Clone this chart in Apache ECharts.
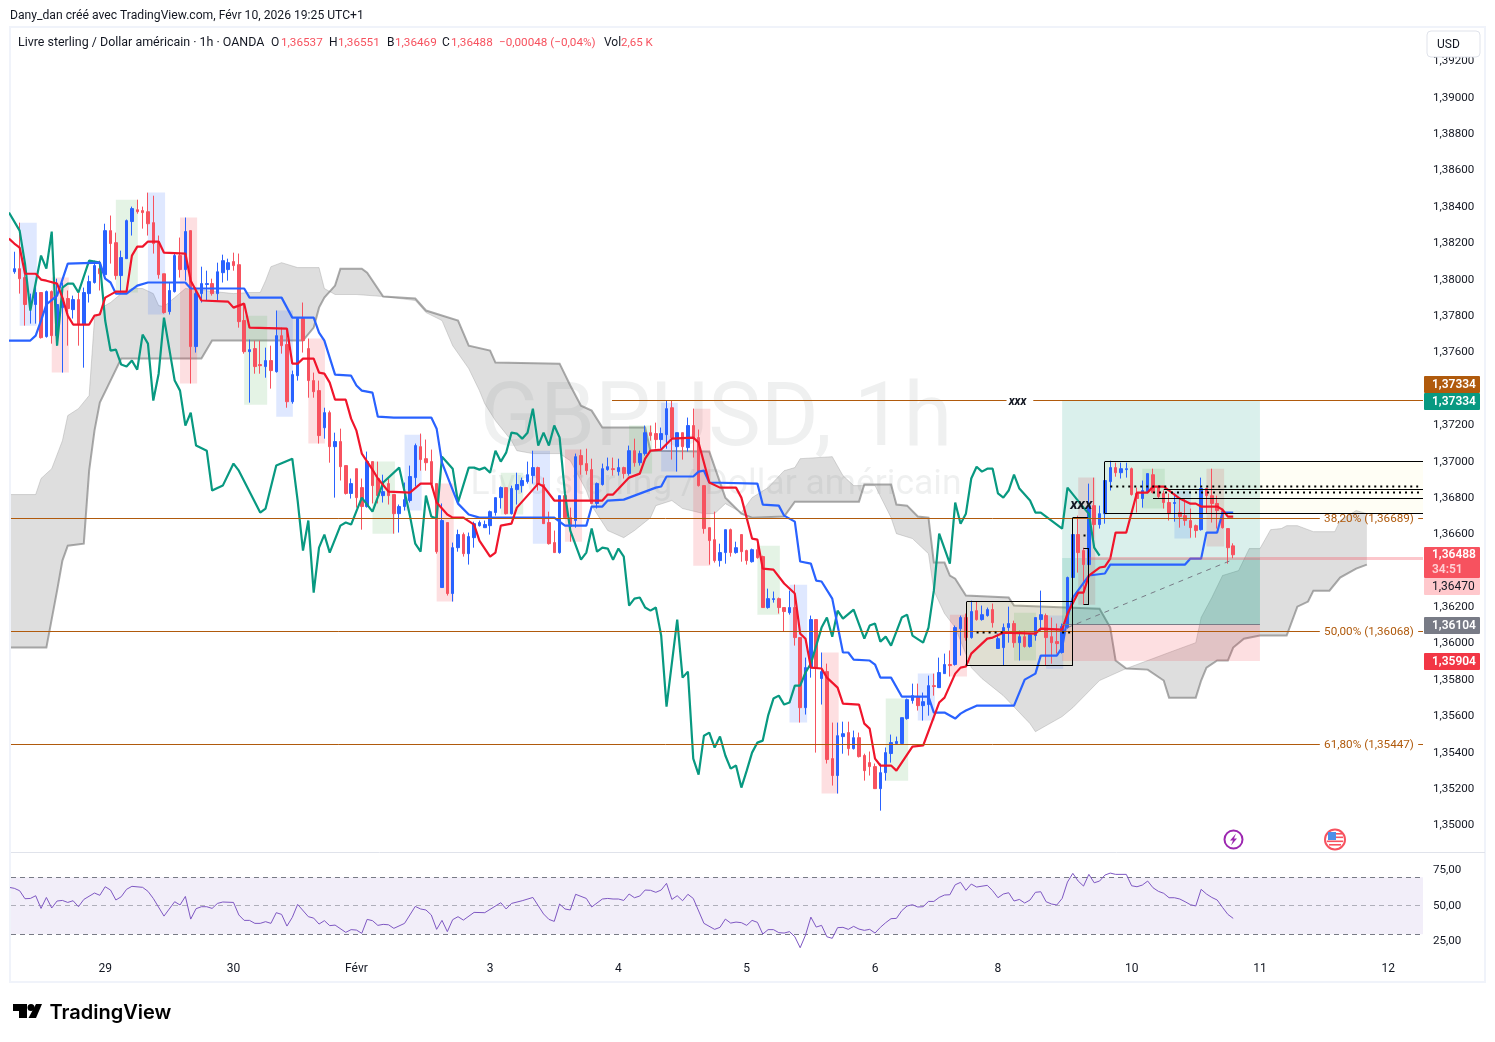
<!DOCTYPE html>
<html><head><meta charset="utf-8"><title>GBPUSD 1h</title>
<style>html,body{margin:0;padding:0;background:#fff}#c{width:1495px;height:1042px}</style>
<script src="https://cdn.jsdelivr.net/npm/echarts@6/dist/echarts.min.js"></script></head><body><div id="c"></div>
<script>
// Prices are stored in 1e-5 units (1,36488 -> 136488). Bars are hourly, numbered from 0.
const PT = 1e5;
const opens = [138043,138060,138011,137863,137863,137929,137687,137934,137692,137846,137896,137835,137890,137753,137923,137984,138060,138027,138269,138203,138022,138115,138319,138384,138379,138373,138313,138203,138032,137824,
137934,138132,138055,138269,137632,137923,137973,137978,137923,138038,138055,138099,138082,137775,137604,137621,137533,137522,137555,137494,137692,137643,137329,137472,137786,137621,137445,137390,137186,137269,
137082,137110,136978,136825,136961,136857,136753,137000,136907,136813,136879,136819,136714,136753,136786,136912,137082,137016,137000,136879,136308,136665,136275,136527,136599,136494,136582,136648,136637,136648,
136720,136802,136857,136714,136846,136868,136890,136923,136967,136874,136665,136555,136500,136813,136692,136676,137033,136989,136956,136770,136874,136956,136961,136945,136967,136934,137060,136994,137044,137159,
137154,137121,137148,137296,137082,137159,137077,137198,137132,136868,136637,136571,136456,136500,136626,136500,136599,136511,136450,136516,136478,136198,136242,136247,136198,136170,136198,136033,135648,135868,
136132,135808,135846,135368,135275,135489,135511,135423,135483,135385,135346,135324,135203,135291,135396,135451,135451,135588,135687,135709,135659,135665,135769,135758,135835,135885,135885,136082,136143,136033,
136181,136132,136154,136187,135973,135978,136088,136110,136005,136038,135984,136044,136132,136154,136038,136011,135951,136088,136363,136599,136511,136434,136758,136654,136714,136890,136967,136939,136956,136961,
136825,136797,136835,136928,136857,136825,136775,136770,136720,136703,136676,136648,136626,136852,136813,136770,136731,136632,136537];
const highs = [138153,138313,138110,137923,137967,137929,137940,137940,138005,137984,137940,137912,137929,137956,138022,138104,138104,138307,138352,138258,138159,138330,138401,138439,138401,138478,138461,138242,138032,137984,
138148,138231,138341,138269,137956,138071,138049,138005,138093,138137,138115,138148,138143,137868,137670,137665,137665,137626,137637,137830,137736,137731,137500,137786,137874,137676,137489,137445,137296,137280,
137159,137181,136978,136907,136961,136907,137055,137000,137000,136928,136907,136819,136764,136885,136978,137099,137154,137121,137066,136879,136770,136665,136555,136626,136610,136610,136670,136676,136676,136731,
136802,136863,136857,136868,136939,136912,137000,137060,136972,136912,136725,136621,136813,136813,136747,137044,137066,137071,137016,136885,136989,137022,137022,137016,136972,137088,137126,137060,137198,137198,
137214,137187,137335,137335,137159,137159,137242,137291,137176,136868,136637,136725,136549,136626,136632,136560,136599,136516,136522,136571,136483,136302,136286,136253,136198,136291,136324,136033,135923,136154,
136132,135951,135890,135566,135566,135571,135571,135522,135511,135395,135407,135341,135341,135429,135500,135489,135593,135698,135780,135780,135731,135824,135835,135923,135945,135962,136099,136154,136165,136236,
136231,136209,136198,136220,136055,136110,136203,136126,136071,136071,136055,136143,136291,136165,136143,136110,136110,136368,136599,136703,136527,136879,136912,136758,136907,137005,136994,136994,136994,136967,
136857,136896,136934,136961,136868,136841,136825,136825,136797,136797,136742,136654,136912,136857,136961,136813,136742,136632,136551];
const lows = [138032,137923,137747,137758,137758,137676,137681,137648,137637,137489,137637,137786,137637,137516,137874,137978,137940,138005,138088,138000,137929,138115,138242,138362,138280,138242,138143,138005,137813,137808,
137929,138011,137994,137429,137599,137874,137885,137912,137885,137984,137994,138049,137736,137593,137324,137483,137483,137461,137401,137489,137593,137296,137318,137445,137599,137351,137351,137099,137126,136994,
136802,136896,136819,136797,136747,136626,136747,136770,136770,136775,136764,136604,136610,136731,136775,136863,136950,136950,136857,136494,136308,136264,136231,136505,136478,136434,136527,136643,136637,136599,
136703,136742,136709,136709,136764,136830,136879,136879,136841,136659,136544,136500,136494,136687,136560,136637,136928,136928,136770,136742,136868,136950,136923,136923,136907,136923,136972,136978,137033,137115,
137071,137071,137071,137011,136945,137011,137055,137022,136863,136604,136434,136445,136423,136439,136478,136494,136450,136434,136445,136467,136198,136192,136225,136165,136066,136159,135989,135566,135610,135813,
135401,135665,135341,135220,135176,135395,135385,135418,135374,135247,135275,135203,135082,135247,135346,135451,135451,135582,135670,135632,135577,135604,135714,135758,135835,135819,135879,135934,136016,136027,
136126,136126,136148,136088,135973,135879,136005,135978,135907,135978,135978,136016,136071,135879,135890,135945,135945,136082,136357,136390,136214,136428,136527,136632,136659,136841,136917,136907,136912,136813,
136720,136747,136830,136825,136797,136742,136676,136670,136637,136648,136582,136582,136621,136714,136665,136632,136632,136439,136469];
const closes = [138060,138005,137863,137868,137929,137681,137934,137692,137863,137896,137841,137890,137753,137929,137989,138077,138032,138269,138198,138022,138121,138324,138390,138373,138368,138307,138198,138027,137819,137940,
138132,138055,138264,137632,137923,137978,137978,137923,138043,138104,138093,138077,137769,137604,137615,137522,137527,137555,137500,137692,137637,137329,137478,137786,137665,137445,137384,137143,137269,137082,
137110,136972,136825,136879,136802,136753,137000,136868,136813,136835,136813,136714,136753,136791,136918,137088,137011,136994,136879,136505,136676,136275,136527,136599,136494,136588,136659,136665,136654,136725,
136802,136857,136714,136852,136874,136896,136928,136967,136874,136659,136549,136500,136813,136692,136643,137027,136983,136950,136770,136879,136961,136972,136956,136967,136934,137060,136994,137044,137159,137143,
137121,137154,137291,137131,137159,137082,137198,137126,136868,136632,136566,136456,136500,136626,136500,136527,136505,136456,136516,136472,136198,136247,136247,136198,136176,136198,136033,135648,135868,136132,
135868,135846,135363,135275,135494,135505,135423,135483,135379,135302,135324,135203,135291,135401,135456,135462,135593,135692,135714,135659,135681,135769,135764,135841,135885,135879,136088,136143,136033,136176,
136132,136159,136187,136115,136027,136088,136110,136005,136038,135984,136049,136143,136159,136033,136005,136000,136093,136363,136599,136500,136434,136758,136654,136714,136896,136967,136939,136961,136961,136819,
136797,136841,136934,136830,136808,136775,136714,136775,136698,136676,136637,136621,136852,136813,136770,136731,136637,136527,136488];

const spanA = [[-1,136819],[4,136819],[5,136907],[7,136961],[9,137115],[10,137253],[12,137291],[14,137363],[15,137786],[17,137857],[18,137874],[20,137923],[22,137951],[24,137951],[26,137923],[27,137857],[28,137852],[30,137901],[32,137951],[41,137923],[44,137929],[46,137929],[47,137994],[48,138071],[50,138093],[53,138066],[57,138066],[58,137951],[60,137918],[64,137918],[69,137907],[75,137885],[77,137819],[80,137775],[82,137637],[85,137511],[87,137390],[88,137318],[90,137225],[93,137115],[94,137060],[97,137044],[102,137044],[104,137005],[107,136841],[108,136758],[111,136621],[114,136582],[116,136621],[119,136692],[120,136758],[123,136786],[125,136742],[129,136714],[131,136714],[133,136769],[136,136720],[138,136802],[141,136857],[144,136950],[146,136967],[147,137016],[153,137027],[155,136923],[157,136868],[161,136868],[164,136692],[165,136604],[168,136577],[171,136494],[172,136291],[174,136165],[176,136088],[179,135868],[181,135808],[185,135714],[190,135560],[191,135516],[196,135599],[198,135648],[203,135797],[208,135863],[213,135918],[216,135951],[221,136005],[222,136143],[224,136253],[226,136374],[229,136401],[231,136522],[233,136522],[235,136626],[237,136632],[238,136648],[240,136648],[243,136615],[247,136615],[248,136676],[251,136731],[253,136714]];
const spanB = [[-1,135978],[6,135978],[8,136291],[9,136456],[10,136538],[13,136549],[14,136950],[15,137170],[16,137324],[18,137445],[20,137566],[35,137566],[37,137665],[54,137665],[56,137736],[57,137846],[58,137901],[60,137967],[61,138060],[65,138060],[66,138038],[69,137907],[75,137896],[77,137830],[83,137775],[85,137637],[89,137610],[90,137544],[102,137538],[104,137418],[106,137307],[108,137280],[110,137187],[118,137187],[119,137060],[130,137055],[133,136802],[136,136714],[138,136692],[144,136698],[146,136780],[158,136780],[159,136874],[164,136874],[165,136764],[167,136758],[169,136698],[171,136692],[172,136445],[174,136445],[175,136374],[176,136357],[178,136264],[186,136253],[187,136209],[203,136192],[205,136088],[206,135907],[208,135863],[212,135857],[215,135797],[216,135703],[221,135703],[222,135797],[223,135868],[225,135907],[227,135907],[228,135978],[230,136027],[233,136044],[238,136044],[240,136203],[242,136231],[243,136291],[246,136291],[248,136363],[251,136412],[253,136434]];
const kijun = [[-1,137665],[3,137665],[4,137692],[5,137775],[6,137863],[8,137912],[10,138088],[16,138093],[17,138005],[18,137984],[19,137923],[21,137923],[23,137967],[25,137984],[32,137984],[33,137951],[43,137951],[44,137901],[50,137901],[52,137791],[56,137791],[57,137709],[58,137665],[60,137478],[63,137472],[64,137418],[65,137390],[67,137379],[68,137247],[71,137242],[78,137242],[79,137181],[80,136994],[83,136769],[85,136709],[87,136692],[101,136692],[103,136648],[107,136648],[108,136753],[110,136753],[111,136786],[114,136791],[116,136813],[119,136846],[120,136857],[121,136863],[122,136918],[127,136918],[128,136945],[129,136950],[130,136885],[139,136879],[140,136764],[143,136758],[144,136703],[146,136670],[147,136451],[149,136439],[150,136346],[151,136341],[153,136247],[155,135951],[156,135951],[157,135912],[160,135907],[161,135885],[162,135813],[164,135813],[166,135709],[171,135709],[172,135621],[174,135621],[176,135588],[177,135615],[178,135632],[180,135659],[187,135659],[189,135802],[191,135835],[192,135934],[195,135934],[196,135978],[197,136143],[198,136253],[201,136374],[204,136385],[205,136434],[219,136434],[220,136467],[222,136467],[223,136610],[225,136610],[226,136720],[228,136720]];
const tenkan = [[-1,138225],[0,138198],[1,138176],[2,138032],[4,138032],[5,138000],[6,137994],[8,137978],[9,137901],[10,137802],[11,137753],[14,137753],[15,137802],[16,137808],[17,137901],[19,137934],[21,137934],[22,138132],[23,138181],[24,138181],[25,138209],[27,138209],[28,138148],[32,138143],[33,137994],[35,137885],[40,137879],[41,137846],[43,137868],[44,137736],[51,137731],[52,137538],[53,137538],[54,137566],[56,137566],[57,137489],[58,137483],[59,137434],[60,137340],[62,137340],[63,137236],[64,137170],[65,137044],[67,136956],[68,136907],[70,136835],[74,136830],[76,136879],[78,136879],[79,136775],[81,136709],[82,136692],[84,136692],[86,136654],[87,136566],[89,136478],[90,136500],[91,136648],[93,136659],[94,136747],[98,136879],[99,136863],[101,136786],[110,136786],[111,136819],[112,136819],[115,136912],[117,136934],[118,137016],[119,137060],[121,137066],[123,137126],[127,137132],[128,137104],[130,136885],[132,136857],[135,136857],[136,136802],[138,136577],[139,136571],[140,136412],[142,136406],[144,136330],[146,136275],[147,136055],[148,136027],[149,135868],[151,135863],[152,135813],[154,135758],[155,135670],[158,135665],[159,135560],[160,135533],[161,135368],[162,135330],[164,135330],[165,135302],[168,135434],[170,135440],[173,135676],[174,135703],[176,135835],[177,135868],[178,135874],[179,135945],[182,136027],[183,136033],[185,136060],[191,136055],[192,136082],[196,136077],[197,136165],[199,136280],[200,136280],[201,136374],[203,136418],[204,136423],[205,136467],[206,136610],[208,136610],[210,136830],[212,136830],[213,136863],[215,136863],[218,136797],[220,136769],[221,136769],[222,136753],[225,136753],[226,136736],[227,136698],[228,136698]];
const chikou = [[-1,138368],[1,138269],[2,138088],[3,137830],[5,138132],[6,138060],[7,138264],[8,137637],[9,137956],[10,137978],[11,137978],[12,137929],[14,138104],[16,138093],[17,137775],[18,137610],[19,137615],[20,137533],[21,137522],[22,137555],[23,137505],[24,137698],[25,137648],[26,137335],[27,137483],[28,137791],[30,137445],[31,137390],[32,137198],[33,137269],[34,137088],[36,137060],[37,136841],[39,136868],[41,136989],[42,136950],[46,136720],[47,136742],[49,136978],[52,137016],[53,136786],[54,136511],[55,136676],[56,136280],[57,136527],[58,136599],[59,136500],[61,136648],[62,136665],[63,136654],[65,136802],[67,136725],[69,136885],[72,136967],[74,136703],[75,136549],[76,136505],[77,136813],[78,136698],[79,136687],[80,137027],[82,136961],[83,136775],[85,136967],[86,136967],[87,136956],[88,136967],[89,136939],[90,137060],[91,137000],[92,137049],[93,137159],[94,137154],[95,137126],[96,137159],[97,137291],[98,137088],[99,137159],[100,137088],[101,137198],[102,137132],[103,136825],[104,136621],[106,136461],[107,136500],[108,136632],[109,136505],[110,136527],[111,136522],[112,136461],[113,136522],[114,136478],[115,136209],[116,136247],[117,136253],[118,136198],[119,136181],[120,136198],[121,136044],[122,135654],[124,136132],[125,135813],[126,135846],[127,135368],[128,135280],[129,135494],[130,135511],[131,135429],[132,135489],[133,135385],[134,135313],[135,135330],[136,135209],[137,135302],[138,135401],[139,135456],[140,135467],[141,135604],[142,135698],[143,135714],[144,135665],[145,135676],[146,135769],[147,135769],[148,135841],[149,135890],[151,136088],[152,136143],[153,136038],[154,136181],[155,136137],[157,136187],[159,136027],[160,136099],[161,136110],[162,136011],[163,136038],[164,135989],[166,136143],[167,136159],[168,136044],[170,136005],[171,136088],[172,136291],[173,136604],[175,136439],[176,136775],[177,136659],[178,136714],[179,136907],[180,136972],[181,136945],[182,136961],[183,136961],[184,136825],[185,136802],[186,136841],[187,136928],[188,136852],[190,136786],[191,136720],[192,136720],[196,136632],[197,136857],[200,136747],[201,136714],[202,136527],[203,136483]];
const rsi = [[-1,62.9],[0,62.2],[1,60.5],[2,54.9],[3,55.1],[4,57.0],[5,48.1],[6,55.8],[7,48.4],[8,53.3],[9,53.7],[10,52.3],[11,53.5],[12,49.3],[13,54.4],[15,58.9],[16,57.3],[17,63.3],[18,61.0],[19,54.0],[20,56.3],[21,61.5],[22,63.6],[24,62.9],[25,60.1],[26,55.1],[28,42.7],[30,52.8],[31,50.5],[32,56.5],[33,40.6],[34,47.9],[35,49.3],[36,49.3],[37,48.1],[38,51.6],[39,52.6],[41,52.3],[42,43.5],[43,39.7],[44,39.7],[45,37.6],[46,37.6],[47,38.8],[48,37.6],[49,45.1],[50,43.9],[51,35.7],[52,41.8],[53,50.9],[55,42.3],[56,41.3],[57,37.1],[58,39.5],[59,36.0],[60,36.4],[62,31.3],[63,33.2],[64,32.9],[65,30.6],[66,40.4],[67,39.5],[68,36.2],[69,36.9],[70,36.6],[71,34.1],[73,37.6],[75,49.5],[76,47.7],[77,47.0],[78,43.5],[79,33.4],[80,39.7],[81,31.8],[82,40.2],[83,42.3],[84,39.9],[86,45.3],[88,45.1],[91,52.1],[92,47.7],[93,51.6],[95,53.5],[97,55.8],[99,44.2],[100,40.4],[101,39.0],[102,51.2],[103,47.7],[104,47.0],[105,58.0],[107,55.1],[108,49.1],[110,54.7],[111,55.1],[112,54.7],[113,54.7],[114,53.7],[115,58.2],[116,55.6],[117,56.8],[118,61.0],[119,60.8],[120,59.4],[121,61.0],[122,65.7],[123,54.4],[124,57.0],[125,53.5],[126,58.0],[127,55.1],[129,37.6],[131,33.4],[132,34.8],[133,40.6],[134,37.8],[135,38.5],[136,38.1],[137,36.2],[138,39.7],[139,38.3],[140,30.1],[141,33.2],[142,33.2],[143,31.1],[144,30.8],[145,31.8],[146,28.2],[147,20.5],[148,29.4],[149,42.0],[150,35.0],[151,36.2],[152,28.2],[153,27.1],[154,34.6],[155,34.8],[156,33.4],[157,35.5],[158,33.6],[159,32.7],[160,33.4],[161,30.8],[162,34.8],[163,38.1],[164,40.9],[165,41.1],[166,46.5],[167,49.8],[168,50.7],[169,49.1],[170,49.3],[171,53.0],[172,53.0],[173,55.8],[174,57.5],[175,57.7],[176,64.7],[177,66.4],[178,60.8],[179,65.2],[180,63.1],[182,64.3],[183,60.5],[184,55.6],[185,58.2],[186,59.1],[187,53.3],[188,54.4],[189,51.9],[190,54.0],[191,59.4],[192,59.8],[193,52.8],[194,51.2],[195,50.5],[196,55.1],[197,66.6],[198,72.7],[199,67.3],[200,63.8],[201,72.0],[202,66.1],[203,67.3],[204,71.5],[205,72.9],[206,72.0],[208,72.0],[209,64.0],[210,63.3],[211,64.5],[212,67.3],[213,62.6],[214,60.1],[215,58.7],[216,55.6],[217,55.6],[218,54.7],[219,52.8],[220,50.7],[221,49.8],[222,61.5],[223,58.2],[224,55.8],[225,54.0],[226,48.8],[227,43.9],[228,41.1]];

// Session highlight boxes: [first bar, last bar, top price, bottom price]
const blueZones = [[1,4.2,138313,137747],[25,28.2,138478,137808],[49,52.1,137830,137247],[73,76.2,137148,136731],[97,100.2,137060,136549],[121,124.1,137324,136945],[145,148.3,136324,135566],[169,172.2,135835,135577],[193,196.2,136154,135862],[217,220.1,136841,136577]];
const redZones = [[7,10.2,138011,137489],[31,34.2,138341,137429],[55,58.1,137676,137099],[79,82.2,136879,136231],[103,106.2,137066,136560],[127,130.2,137291,136428],[151,154.2,135951,135176],[175,178.2,136159,135819],[199,202.2,136912,136214],[223,226.3,136961,136533]];
const greenZones = [[19,23.1,138439,137929],[43,47.3,137802,137313],[67,71.2,137000,136604],[91,95.2,136939,136709],[115,119.3,137198,136934],[139,143.2,136538,136159],[163,167.2,135698,135247],[187,191.1,136170,135907],[211,215.2,136961,136742]];

const priceTicks = [135000,135200,135400,135600,135800,136000,136200,136400,136600,136800,137000,137200,137400,137600,137800,138000,138200,138400,138600,138800,139000,139200];
const rsiTicks = [25,50,75];
const dayTicks = [17,41,64,89,113,137,161,184,209,233,257];
const dayLabels = ['29','30','Févr','3','4','5','6','8','10','11','12'];
const fibLevels = [136689,136068,135447];
const fibLabels = ['38,20% (1,36689)','50,00% (1,36068)','61,80% (1,35447)'];
const resistance = 137334, posEntry = 136104, posStop = 135904, lastMark = 136470;
const RIGHT = 263.5, LEFT = -0.617;

const RED='#F7525F', BLUE='#2962FF', BROWN='#B05A0C', INK='#131722', FONT='Roboto, "Noto Sans", sans-serif';
const px = v => v/PT;
const fmt = v => v.toFixed(5).replace('.',',');
const crisp = v => Math.floor(v)+0.5;

function rectEl(api,z,style){
  const a=api.coord([z[0],px(z[2])]), b=api.coord([z[1],px(z[3])]);
  return {type:'rect',shape:{x:a[0],y:a[1],width:b[0]-a[0],height:b[1]-a[1]},style};
}
function lineEl(api,k0,p0,k1,p1,stroke,w,dash){
  const a=api.coord([k0,px(p0)]), b=api.coord([k1,px(p1)]);
  if(p0===p1){a[1]=b[1]=crisp(a[1]);}
  if(k0===k1){a[0]=b[0]=crisp(a[0]);}
  return {type:'line',shape:{x1:a[0],y1:a[1],x2:b[0],y2:b[1]},style:{stroke,lineWidth:w||1,lineDash:dash||null,fill:null}};
}
function textEl(api,k,p,text,font,fill){
  const a=api.coord([k,px(p)]);
  return {type:'text',style:{text,x:a[0],y:a[1]+1,font,fill,textAlign:'left',textVerticalAlign:'middle'}};
}
function customGroup(z,build){
  return {type:'custom',xAxisIndex:0,yAxisIndex:0,z,clip:true,silent:true,data:[[0,1.36]],
    encode:{x:0,y:1},renderItem:(p,api)=>({type:'group',children:build(api)})};
}
const cloud = customGroup(1,api=>{
  const up=spanA.map(d=>api.coord([d[0],px(d[1])]));
  const lo=spanB.map(d=>api.coord([d[0],px(d[1])])).reverse();
  return [
    {type:'polygon',shape:{points:up.concat(lo)},style:{fill:'rgba(135,135,135,0.28)'}},
    {type:'polyline',shape:{points:up},style:{stroke:'rgba(150,150,150,0.35)',lineWidth:1,fill:null}},
    {type:'polyline',shape:{points:lo},style:{stroke:'rgba(120,120,120,0.62)',lineWidth:2,fill:null}}
  ];
});
const zones = customGroup(2,api=>[
  ...blueZones.map(z=>rectEl(api,z,{fill:'rgba(41,98,255,0.15)'})),
  ...redZones.map(z=>rectEl(api,z,{fill:'rgba(242,54,69,0.16)'})),
  ...greenZones.map(z=>rectEl(api,z,{fill:'rgba(76,175,80,0.15)'})),
  rectEl(api,[196,233,resistance,posEntry],{fill:'rgba(8,153,129,0.15)'}),
  rectEl(api,[196,233,lastMark,posEntry],{fill:'rgba(8,153,129,0.15)'}),
  rectEl(api,[196,233,posEntry,posStop],{fill:'rgba(242,54,69,0.16)'}),
  rectEl(api,[204,RIGHT,137000,136715],{fill:'rgba(255,235,59,0.05)'}),
  rectEl(api,[178.2,198,136231,135879],{fill:'rgba(255,235,59,0.07)'})
]);
const drawings = customGroup(6,api=>{
  const K='#000';
  const out=[];
  fibLevels.forEach((l,i)=>{
    out.push(lineEl(api,LEFT,l,244.2,l,BROWN,1));
    out.push(lineEl(api,262.6,l,RIGHT,l,BROWN,1));
    out.push(textEl(api,245,l,fibLabels[i],'11.7px '+FONT,BROWN));
  });
  out.push(lineEl(api,111.8,resistance,185.6,resistance,BROWN,1));
  out.push(lineEl(api,190.6,resistance,RIGHT,resistance,BROWN,1));
  out.push(textEl(api,186,resistance,'xxx','italic bold 12px '+FONT,INK));
  out.push(textEl(api,197.5,136764,'xxx','italic bold 15px '+FONT,INK));
  out.push(lineEl(api,196,posEntry,233,posEntry,'#787B86',1));
  out.push(lineEl(api,197,136088,228,136462,'#787B86',1,[5,5]));
  out.push(lineEl(api,201,lastMark,RIGHT,lastMark,'rgba(247,82,95,0.32)',3));
  out.push(lineEl(api,204,137000,RIGHT,137000,K));
  out.push(lineEl(api,204,136715,RIGHT,136715,K));
  out.push(lineEl(api,204,137000,204,136715,K));
  out.push(lineEl(api,215,136846,RIGHT,136846,K));
  out.push(lineEl(api,213,136797,RIGHT,136797,K));
  out.push(lineEl(api,205,136863,262.6,136863,K,2,[2,4]));
  out.push(lineEl(api,213,136830,RIGHT,136830,K,2,[2,4]));
  out.push(lineEl(api,178.2,136231,198,136231,K));
  out.push(lineEl(api,178.2,135879,198,135879,K));
  out.push(lineEl(api,178.2,136231,178.2,135879,K));
  out.push(lineEl(api,198,136692,198,135879,K));
  out.push(lineEl(api,198,136692,200.8,136692,K));
  out.push(lineEl(api,200,136522,201,136522,K));
  out.push(lineEl(api,200,136214,201,136214,K));
  out.push(lineEl(api,201,136522,201,136214,K));
  out.push(lineEl(api,200,136594,201,136594,K,2,[2,4]));
  out.push(lineEl(api,180,136060,185,136060,K,2,[2,4]));
  out.push(lineEl(api,196,136060,198,136060,K,2,[2,4]));
  return out;
});
const rsiBands = {type:'custom',xAxisIndex:1,yAxisIndex:1,z:1,clip:true,silent:true,data:[[0,50]],encode:{x:0,y:1},
  renderItem:(p,api)=>{
    const a=api.coord([LEFT,70]), b=api.coord([RIGHT,30]), m=api.coord([LEFT,50]);
    const seg=(y,c)=>({type:'line',shape:{x1:a[0],y1:crisp(y),x2:b[0],y2:crisp(y)},style:{stroke:c,lineWidth:1,lineDash:[5,4],fill:null}});
    return {type:'group',children:[
      {type:'rect',shape:{x:a[0],y:a[1],width:b[0]-a[0],height:b[1]-a[1]},style:{fill:'rgba(126,87,194,0.10)'}},
      seg(a[1],'#787B86'),seg(b[1],'#787B86'),seg(m[1],'rgba(120,123,134,0.55)')]};
  }};
const lineS=(data,color,z,w)=>({type:'line',xAxisIndex:0,yAxisIndex:0,data:data.map(d=>[d[0],px(d[1])]),symbol:'none',
  lineStyle:{color,width:w||2.2},z,silent:true,animation:false});

const chart=echarts.init(document.getElementById('c'),null,{renderer:'canvas'});
const T=(x,y,text,fill,extra)=>Object.assign({type:'text',z:200,x,y:y+1,style:Object.assign({text,fill:fill||INK,font:'12px '+FONT,textVerticalAlign:'middle'},extra||{})});
const tag=(y,h,bg,lines,fg,weight)=>[
  {type:'rect',z:150,shape:{x:1424,y,width:56,height:h,r:1},style:{fill:bg}},
  ...lines.map((l,i)=>({type:'text',z:200,x:1432,y:y+h/lines.length*(i+.5),style:{text:l[0],fill:l[1]||fg,font:(weight||600)+' 12px '+FONT,textVerticalAlign:'middle'}}))
];
const valueCol=RED;
chart.setOption({
  animation:false,
  grid:[{left:11,right:72,top:27.6,height:825},{left:11,right:72,top:853,height:100}],
  xAxis:[
    {type:'value',gridIndex:0,min:LEFT,max:RIGHT,axisLine:{show:false},axisTick:{show:false},axisLabel:{show:false},splitLine:{show:false}},
    {type:'value',gridIndex:1,min:LEFT,max:RIGHT,axisLine:{show:false},axisTick:{show:false},splitLine:{show:false},
      axisLabel:{customValues:dayTicks,color:INK,fontSize:12,fontFamily:FONT,margin:10,formatter:v=>dayLabels[dayTicks.indexOf(v)]||'',hideOverlap:false,showMinLabel:true,showMaxLabel:true}}
  ],
  yAxis:[
    {type:'value',gridIndex:0,position:'right',min:1.348516,max:1.393846,scale:true,axisLine:{show:false},axisTick:{show:false},splitLine:{show:false},
      axisLabel:{customValues:priceTicks.map(px),color:INK,fontSize:11.6,fontFamily:FONT,margin:10,formatter:v=>fmt(v),hideOverlap:false}},
    {type:'value',gridIndex:1,position:'right',min:16.8,max:87,axisLine:{show:false},axisTick:{show:false},splitLine:{show:false},
      axisLabel:{customValues:rsiTicks,color:INK,fontSize:11.6,fontFamily:FONT,margin:10,formatter:v=>v.toFixed(2).replace('.',','),hideOverlap:false}}
  ],
  series:[
    cloud,zones,
    {type:'candlestick',xAxisIndex:0,yAxisIndex:0,z:3,silent:true,barWidth:3,encode:{x:0,y:[1,2,3,4]},
      data:opens.map((o,k)=>[k,px(o),px(closes[k]),px(lows[k]),px(highs[k])]),
      itemStyle:{color:BLUE,color0:RED,borderColor:BLUE,borderColor0:RED,borderWidth:1}},
    lineS(chikou,'#089981',4),
    lineS(kijun,BLUE,5),
    lineS(tenkan,'#F0152B',5),
    drawings,
    rsiBands,
    {type:'line',xAxisIndex:1,yAxisIndex:1,data:rsi,symbol:'none',lineStyle:{color:'#7E57C2',width:1},z:3,silent:true}
  ],
  graphic:{elements:[
    {type:'text',z:0,x:716,y:423,style:{text:'GBPUSD, 1h',fill:'rgba(19,23,34,0.065)',font:'88.5px '+FONT,textAlign:'center',textVerticalAlign:'middle'}},
    {type:'text',z:0,x:716,y:485,style:{text:'Livre sterling / Dollar américain',fill:'rgba(19,23,34,0.065)',font:'35.5px '+FONT,textAlign:'center',textVerticalAlign:'middle'}},
    {type:'rect',z:-1,shape:{x:10,y:27,width:1475,height:955},style:{fill:'#fff',stroke:'#F0F3FA',lineWidth:2}},
    {type:'line',z:5,shape:{x1:11,y1:852.5,x2:1485,y2:852.5},style:{stroke:'#E0E3EB',lineWidth:1}},
    T(10,15,'Dany_dan créé avec TradingView.com, Févr 10, 2026 19:25 UTC+1',INK,{font:'12.15px '+FONT}),
    T(18,42,'Livre sterling / Dollar américain · 1h · OANDA',INK,{font:'12.45px '+FONT}),
    T(271,42,'O'),T(281,42,'1,36537',valueCol,{font:'11.7px '+FONT}),
    T(329,42,'H'),T(338,42,'1,36551',valueCol,{font:'11.7px '+FONT}),
    T(387,42,'B'),T(395,42,'1,36469',valueCol,{font:'11.7px '+FONT}),
    T(442,42,'C'),T(451,42,'1,36488',valueCol,{font:'11.7px '+FONT}),
    T(499,42,'−0,00048 (−0,04%)',valueCol,{font:'11.7px '+FONT}),
    T(604,42,'Vol'),T(621,42,'2,65 K',valueCol,{font:'11.5px '+FONT}),
    {type:'rect',z:120,shape:{x:1427,y:31,width:53,height:26,r:4},style:{fill:'#fff',stroke:'#E0E3EB',lineWidth:1}},
    T(1437,43.5,'USD'),
    ...tag(376,17,BROWN,[['1,37334']],'#fff'),
    ...tag(393,17,'#089981',[['1,37334']],'#fff'),
    ...tag(547,31,RED,[['1,36488'],['34:51','#FFD0D4']],'#fff'),
    ...tag(578,17,'#FFC8CC',[['1,36470']],INK,400),
    ...tag(617,17,'#787B86',[['1,36104']],'#fff'),
    ...tag(653,17,'#F23645',[['1,35904']],'#fff'),
    {type:'circle',z:50,shape:{cx:1233.5,cy:839.5,r:9},style:{fill:'#fff',stroke:'#9C27B0',lineWidth:2}},
    {type:'polygon',z:51,shape:{points:[[1236,833.5],[1230,840.5],[1233,840.5],[1231,845.5],[1237,838.5],[1234,838.5]]},style:{fill:'#9C27B0'}},
    {type:'circle',z:50,shape:{cx:1335,cy:839.5,r:10},style:{fill:'#fff',stroke:'#F7525F',lineWidth:2}},
    {type:'rect',z:52,shape:{x:1328,y:832,width:8,height:8},style:{fill:'#4D8FE8'}},
    {type:'rect',z:51,shape:{x:1336,y:833,width:6,height:1.6},style:{fill:'#F7525F'}},
    {type:'rect',z:51,shape:{x:1336,y:836.5,width:7,height:1.6},style:{fill:'#F7525F'}},
    {type:'rect',z:51,shape:{x:1327,y:840.5,width:16,height:1.6},style:{fill:'#F7525F'}},
    {type:'rect',z:51,shape:{x:1329,y:844,width:12,height:1.6},style:{fill:'#F7525F'}},
    {type:'rect',z:60,shape:{x:13,y:1004,width:14,height:7},style:{fill:'#000'}},
    {type:'rect',z:60,shape:{x:19,y:1004,width:8,height:14},style:{fill:'#000'}},
    {type:'circle',z:60,shape:{cx:31,cy:1007.6,r:3.5},style:{fill:'#000'}},
    {type:'polygon',z:60,shape:{points:[[36,1004],[42,1004],[36,1018],[28.5,1018]]},style:{fill:'#000'}},
    {type:'text',z:60,x:49.5,y:1012.5,style:{text:'TradingView',fill:'#000',font:'600 20px Inter, '+FONT,textVerticalAlign:'middle'}}
  ]}
});
</script></body></html>
